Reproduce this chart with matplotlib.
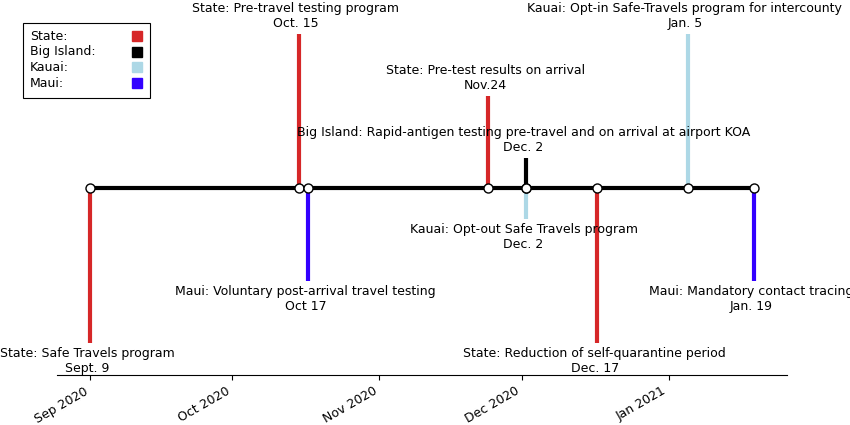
import matplotlib
matplotlib.use("Agg")
import matplotlib.pyplot as plt
import matplotlib.dates as mdates
from matplotlib.lines import Line2D
from matplotlib.patches import Rectangle
import numpy as np
from datetime import datetime

dates_str = ["2020-09-01", "2020-10-15", "2020-10-17", "2020-11-24", "2020-12-02",
             "2020-12-02", "2020-12-17", "2021-01-05", "2021-01-19"]
levels = [-5, 5, -3, 3, 1, -1, -5, 5, -3]
groups = ["State", "State", "Maui", "State", "Big Island", "Kauai", "State", "Kauai", "Maui"]
labels = ["State: Safe Travels program\nSept. 9",
          "State: Pre-travel testing program\nOct. 15",
          "Maui: Voluntary post-arrival travel testing\nOct 17",
          "State: Pre-test results on arrival\nNov.24",
          "Big Island: Rapid-antigen testing pre-travel and on arrival at airport KOA\nDec. 2",
          "Kauai: Opt-out Safe Travels program\nDec. 2",
          "State: Reduction of self-quarantine period\nDec. 17",
          "Kauai: Opt-in Safe-Travels program for intercounty\nJan. 5",
          "Maui: Mandatory contact tracing\nJan. 19"]
group_names = ["State", "Big Island", "Kauai", "Maui"]
group_colors = {"State": "#d62728", "Big Island": "black", "Kauai": "#add8e6", "Maui": "#3300ff"}

dates = [datetime.strptime(d, "%Y-%m-%d") for d in dates_str]

W, H = 850, 425
fig = plt.figure(figsize=(8.5, 4.25), dpi=100)
ax = fig.add_axes([0.067, 0.118, 0.859, 0.877])

ax.vlines(dates, 0, levels, colors=[group_colors[g] for g in groups], lw=3)
ax.plot(dates, np.zeros(len(dates)), "-o", color="k", lw=3,
        markerfacecolor="w", markeredgecolor="k", markersize=6.5, zorder=3)

for d, l, t in zip(dates, levels, labels):
    ax.annotate(t, xy=(d, l), xytext=(-2, 3 if l > 0 else -3),
                textcoords="offset points", ha="center",
                va="bottom" if l > 0 else "top", fontsize=9)

ax.set_ylim(-6.05, 6.05)
ax.xaxis.set_major_locator(mdates.MonthLocator())
ax.xaxis.set_major_formatter(mdates.DateFormatter("%b %Y"))
plt.setp(ax.get_xticklabels(), rotation=30, ha="right", fontsize=9)
ax.yaxis.set_visible(False)
for s in ["left", "top", "right"]:
    ax.spines[s].set_visible(False)

# manual legend (text left, marker right)
fig.patches.append(Rectangle((23 / W, 1 - 98 / H), 127 / W, 75 / H, transform=fig.transFigure,
                             facecolor="white", edgecolor="black", lw=0.8, zorder=5))
for i, g in enumerate(group_names):
    y = 1 - (36 + i * 15.7) / H
    fig.text(30 / W, y, g + ":", fontsize=9, va="center", ha="left", zorder=6)
    fig.lines.append(Line2D([137 / W], [y], transform=fig.transFigure, marker="s",
                            linestyle="none", color=group_colors[g], markersize=7, zorder=6))

fig.savefig("out.png", dpi=100)
